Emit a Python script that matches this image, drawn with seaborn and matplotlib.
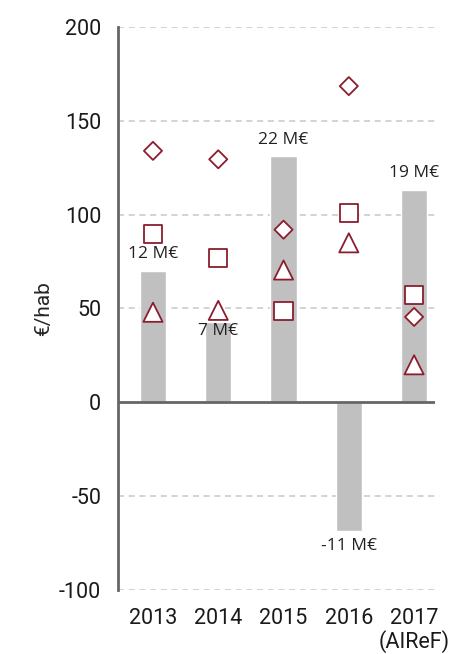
#importing libraries
import numpy as np
import pandas as pd
import matplotlib
matplotlib.use("Agg")
import matplotlib.pyplot as plt
import seaborn as sns

#chart data
years = ['2013', '2014', '2015', '2016', '2017\n(AIReF)']
bar_values = [70, 43, 131, -68.5, 113]
bar_labels = ['12 M€', '7 M€', '22 M€', '-11 M€', '19 M€']
diamond_values = [134, 129.5, 92, 168.5, 45.5]
square_values = [89.5, 77, 48.5, 101, 57]
triangle_values = [48, 49, 70.5, 85, 20]

sns.set_style("white")
plt.rcParams['font.family'] = ['Roboto', 'DejaVu Sans']
plt.rcParams['axes.unicode_minus'] = False

red = '#8B1E2E'
grey_bar = '#C0C0C0'
axis_col = '#666666'

df_bars = pd.DataFrame({'year': years, 'value': bar_values})
pos = np.arange(len(years))
df_pts = pd.DataFrame({
    'pos': np.concatenate([pos, pos, pos]),
    'value': diamond_values + square_values + triangle_values,
    'serie': ['diamond'] * 5 + ['square'] * 5 + ['triangle'] * 5,
})

fig = plt.figure(figsize=(4.51, 6.54), dpi=100)
ax = fig.add_axes([0.2616, 0.0979, 0.7029, 0.8608])

#grid lines
for yv in [-100, -50, 50, 100, 150, 200]:
    ax.axhline(yv, color='#C8C8C8', lw=1.1, ls=(0, (4, 3)), zorder=0)

sns.barplot(x='year', y='value', data=df_bars, color=grey_bar, width=0.4,
            saturation=1, ax=ax, zorder=2)

sns.scatterplot(x='pos', y='value', data=df_pts, style='serie',
                markers={'diamond': 'D', 'square': 's', 'triangle': '^'},
                size='serie', sizes={'diamond': 85, 'square': 170, 'triangle': 190},
                facecolor='white', edgecolor=red, linewidth=1.3,
                legend=False, ax=ax, zorder=4)

#bar labels
lab_font = ['Open Sans', 'DejaVu Sans']
for i, (v, lab) in enumerate(zip(bar_values, bar_labels)):
    if i == 1:
        y_txt = v - 5
    elif v < 0:
        y_txt = v - 8
    else:
        y_txt = v + 9
    ax.text(i, y_txt, lab, ha='center', va='center', fontsize=12.5,
            color='#222222', family=lab_font, zorder=5)

ax.axhline(0, color=axis_col, lw=2, zorder=3)

ax.set_ylim(-100, 200)
ax.set_xlim(-0.536, 4.32)
ax.set_yticks([-100, -50, 0, 50, 100, 150, 200])
ax.set_ylabel('€/hab', fontsize=15)
ax.set_xlabel('')
ax.tick_params(axis='both', labelsize=15.5, length=0, colors='#1a1a1a')
ax.tick_params(axis='x', pad=13)
ax.tick_params(axis='y', pad=12)
for t in ax.get_xticklabels():
    t.set_linespacing(1.05)

for s in ['top', 'right', 'bottom']:
    ax.spines[s].set_visible(False)
ax.spines['left'].set_color(axis_col)
ax.spines['left'].set_linewidth(2)

fig.savefig('out.png', dpi=100)
